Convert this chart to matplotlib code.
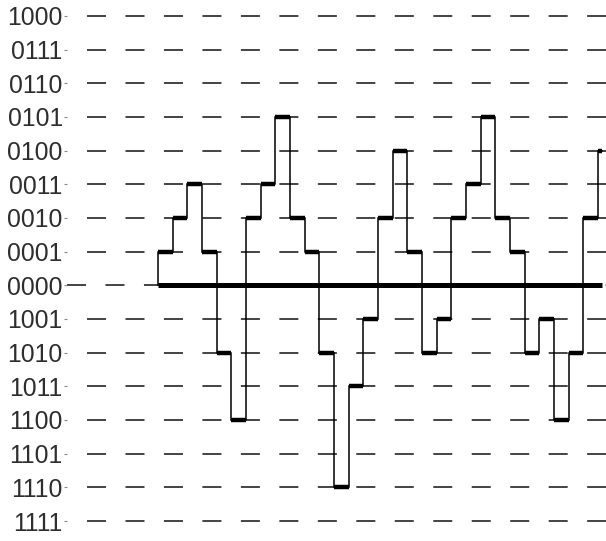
import numpy as np
import matplotlib
matplotlib.use('Agg')
import matplotlib.pyplot as plt

plt.rcParams['font.family'] = ['Liberation Sans', 'DejaVu Sans']
plt.rcParams['lines.scale_dashes'] = False

# quantisation levels, top to bottom, and their codes
y_labels = ['1000', '0111', '0110', '0101', '0100', '0011', '0010', '0001',
            '0000', '1001', '1010', '1011', '1100', '1101', '1110', '1111']
y_levels = [8, 7, 6, 5, 4, 3, 2, 1, 0, -1, -2, -3, -4, -5, -6, -7]

# sampled signal, one code per sample period
signal_codes = ['0001', '0010', '0011', '0001', '1010', '1100', '0010', '0011',
                '0101', '0010', '0001', '1010', '1110', '1011', '1001', '0010',
                '0100', '0001', '1010', '1001', '0010', '0011', '0101', '0010',
                '0001', '1010', '1001', '1100', '1010', '0010', '0100']
t_end = 30.27

code_to_level = dict(zip(y_labels, y_levels))
vals = np.array([code_to_level[c] for c in signal_codes])
t0 = np.arange(len(vals))
t1 = np.minimum(t0 + 1, t_end)

fig = plt.figure(figsize=(6.06, 5.41), dpi=100)
ax = fig.add_axes([67/606, 0, 539/606, 1])
ax.set_xlim(-6.2, 30.54)
ax.set_ylim(-7.594, 8.475)

# dashed level lines
for lv in y_levels:
    if lv == 0:
        ax.axhline(lv, xmin=0, xmax=1, color='#111111', lw=1.1,
                   linestyle=(0, (13.7, 14.0)), zorder=1)
    else:
        ax.axhline(lv, xmin=20/539, xmax=1, color='#111111', lw=1.1,
                   linestyle=(0, (13.7, 14.0)), zorder=1)

# thin outline of the held signal
xs = [0]
ys = [0]
for a, b, v in zip(t0, t1, vals):
    xs += [a, b]
    ys += [v, v]
ax.plot(xs, ys, color='black', lw=1.1, zorder=2, solid_joinstyle='miter')

# thick sample bars
ax.hlines(vals, t0, t1, color='black', lw=3.2, zorder=3)

# time axis
ax.hlines(0, 0, t_end, color='black', lw=3.6, zorder=4)

ax.set_yticks(y_levels)
ax.set_yticklabels(y_labels)
ax.tick_params(axis='y', length=2.2, width=0.8, color='#888888', pad=0.8,
               labelsize=17.8, labelcolor='#2e2e2e')
ax.set_xticks([])
for s in ax.spines.values():
    s.set_visible(False)

fig.savefig('out.png', dpi=100)
